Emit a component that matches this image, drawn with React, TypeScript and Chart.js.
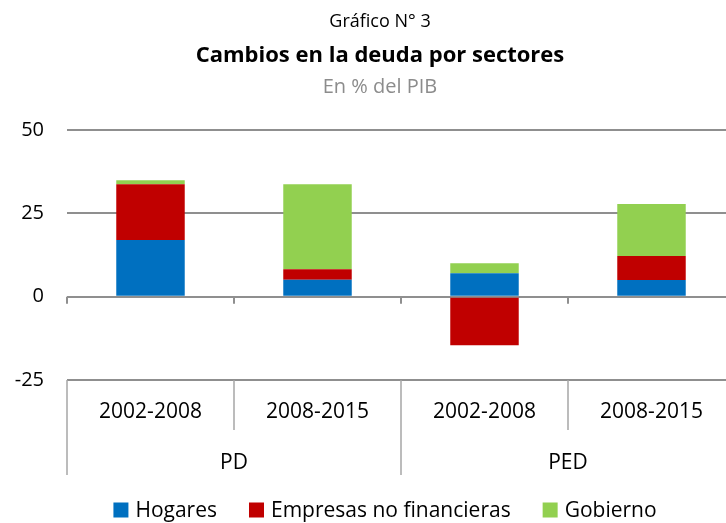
import React, { useEffect, useRef } from "react";
import { Chart, registerables } from "chart.js";

Chart.register(...registerables);

const periods = ["2002-2008", "2008-2015", "2002-2008", "2008-2015"];
const groups = ["PD", "PED"];
const groupSpan = [2, 2];
const hogares = [17, 5.1, 7, 5];
const empresas = [16.7, 3.1, -14.6, 7.2];
const gobierno = [1.2, 25.5, 3, 15.6];
const yTicks = [-25, 0, 25, 50];

const titleTop = "Gráfico N° 3";
const titleMain = "Cambios en la deuda por sectores";
const titleSub = "En % del PIB";

const FONT = "'Open Sans', sans-serif";

const decorPlugin = {
  id: "decor",
  afterDraw(chart: any) {
    const ctx = chart.ctx;
    const x = chart.scales.x;
    const y = chart.scales.y;
    const area = chart.chartArea;
    const cx = 380;
    ctx.save();
    // titles
    ctx.textAlign = "center";
    ctx.textBaseline = "middle";
    ctx.fillStyle = "#000";
    ctx.font = `18px ${FONT}`;
    ctx.fillText(titleTop, cx, 22);
    ctx.font = `bold 22px ${FONT}`;
    ctx.fillText(titleMain, cx, 56);
    ctx.fillStyle = "#8c8c8c";
    ctx.font = `20px ${FONT}`;
    ctx.fillText(titleSub, cx, 87);

    // boundaries
    const n = periods.length;
    const step = x.getPixelForValue(1) - x.getPixelForValue(0);
    const bounds: number[] = [];
    for (let i = 0; i <= n; i++) bounds.push(x.getPixelForValue(0) - step / 2 + i * step);

    // ticks under zero line
    const y0 = y.getPixelForValue(0);
    ctx.strokeStyle = "#8f8f8f";
    ctx.lineWidth = 2;
    for (let i = 0; i < n; i++) {
      ctx.beginPath();
      ctx.moveTo(bounds[i], y0);
      ctx.lineTo(bounds[i], y0 + 7);
      ctx.stroke();
    }

    // category table
    const top = area.bottom;
    const outer: number[] = [0];
    let acc = 0;
    groupSpan.forEach((s) => {
      acc += s;
      outer.push(acc);
    });
    ctx.strokeStyle = "#a6a6a6";
    ctx.lineWidth = 1.5;
    for (let i = 0; i <= n; i++) {
      const isOuter = outer.includes(i);
      ctx.beginPath();
      ctx.moveTo(bounds[i], top);
      ctx.lineTo(bounds[i], top + (isOuter ? 95 : 50));
      ctx.stroke();
    }
    ctx.fillStyle = "#000";
    ctx.font = `21px ${FONT}`;
    for (let i = 0; i < n; i++) {
      ctx.fillText(periods[i], x.getPixelForValue(i), top + 32);
    }
    for (let g = 0; g < groups.length; g++) {
      const a = bounds[outer[g]];
      const b = bounds[outer[g + 1]];
      ctx.fillText(groups[g], (a + b) / 2, top + 83);
    }

    // legend
    ctx.font = `21px ${FONT}`;
    const ds = chart.data.datasets;
    const box = 15;
    const gapBox = 7;
    const gapItem = 32;
    const widths = ds.map((d: any) => box + gapBox + ctx.measureText(d.label).width);
    const total = widths.reduce((s: number, w: number) => s + w, 0) + gapItem * (ds.length - 1);
    let lx = 385 - total / 2;
    const ly = 510;
    ctx.textAlign = "left";
    ds.forEach((d: any, i: number) => {
      ctx.fillStyle = d.backgroundColor;
      ctx.fillRect(lx, ly - box / 2, box, box);
      ctx.fillStyle = "#000";
      ctx.fillText(d.label, lx + box + gapBox, ly + 1);
      lx += widths[i] + gapItem;
    });
    ctx.restore();
  },
};

export default function App() {
  const ref = useRef<HTMLCanvasElement>(null);
  useEffect(() => {
    if (!ref.current) return;
    const chart = new Chart(ref.current, {
      type: "bar",
      data: {
        labels: periods,
        datasets: [
          { label: "Hogares", data: hogares, backgroundColor: "#0070C0" },
          { label: "Empresas no financieras", data: empresas, backgroundColor: "#C00000" },
          { label: "Gobierno", data: gobierno, backgroundColor: "#92D050" },
        ],
      },
      options: {
        responsive: false,
        animation: false,
        layout: { padding: { top: 130, right: 0, bottom: 0, left: 0 } },
        datasets: { bar: { categoryPercentage: 1, barPercentage: 0.41 } },
        plugins: { legend: { display: false }, tooltip: { enabled: false } },
        scales: {
          x: {
            stacked: true,
            ticks: { display: false },
            grid: { display: false },
            border: { display: false },
            afterFit: (s: any) => {
              s.height = 143;
            },
          },
          y: {
            stacked: true,
            min: -25,
            max: 50,
            afterBuildTicks: (s: any) => {
              s.ticks = yTicks.map((v) => ({ value: v }));
            },
            ticks: { color: "#000", font: { family: FONT, size: 20 }, padding: 23 },
            grid: { color: "#8f8f8f", lineWidth: 2, drawTicks: false },
            border: { display: false },
            afterFit: (s: any) => {
              s.width = 67;
            },
          },
        },
      },
      plugins: [decorPlugin],
    });
    return () => chart.destroy();
  }, []);
  return (
    <div style={{ position: "fixed", left: 0, top: 0, width: 726, height: 523, overflow: "hidden", background: "#fff" }}>
      <canvas ref={ref} width={735} height={523} style={{ display: "block" }} />
    </div>
  );
}
